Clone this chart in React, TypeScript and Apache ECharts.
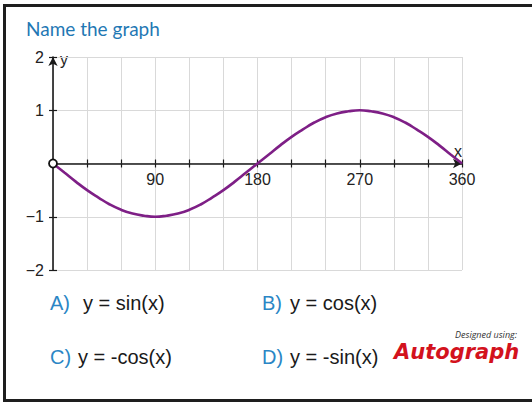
import React, { useEffect, useRef } from 'react';
import * as echarts from 'echarts';

const titleText = 'Name the graph';
const angles = [0, 10, 20, 30, 40, 50, 60, 70, 80, 90, 100, 110, 120, 130, 140, 150, 160, 170, 180, 190, 200, 210, 220, 230, 240, 250, 260, 270, 280, 290, 300, 310, 320, 330, 340, 350, 360];
const curveValues = [0, -0.17, -0.34, -0.5, -0.64, -0.77, -0.87, -0.94, -0.98, -1, -0.98, -0.94, -0.87, -0.77, -0.64, -0.5, -0.34, -0.17, 0, 0.17, 0.34, 0.5, 0.64, 0.77, 0.87, 0.94, 0.98, 1, 0.98, 0.94, 0.87, 0.77, 0.64, 0.5, 0.34, 0.17, 0];
const xTickLabels = [90, 180, 270, 360];
const yTickLabels = [2, 1, -1, -2];
const answerLetters = ['A)', 'B)', 'C)', 'D)'];
const answerTexts = ['y = sin(x)', 'y = cos(x)', 'y = -cos(x)', 'y = -sin(x)'];

export default function App() {
  const ref = useRef<HTMLDivElement>(null);
  useEffect(() => {
    const chart = echarts.init(ref.current!, null, { renderer: 'svg' });
    const ff = '"Liberation Sans", Arial, sans-serif';
    const axisColor = '#1a1a1a';
    const gridTop = 57;
    const gridHeight = 213;
    const zeroOffset = -gridHeight / 2; // x axis drawn through y = 0 (middle of -2..2)
    const letterPos = [
      { lx: 50, ex: 83, y: 303 },
      { lx: 262, ex: 290, y: 303 },
      { lx: 50, ex: 78, y: 357 },
      { lx: 262, ex: 290, y: 357 },
    ];
    const answerGraphics: any[] = [];
    answerLetters.forEach((l, i) => {
      const p = letterPos[i];
      answerGraphics.push({
        type: 'text', x: p.lx, y: p.y,
        style: { text: l, fill: '#2b86c5', font: `20px ${ff}`, align: 'left', verticalAlign: 'middle' },
      });
      answerGraphics.push({
        type: 'text', x: p.ex, y: p.y,
        style: { text: answerTexts[i], fill: '#1a1a1a', font: `20px ${ff}`, align: 'left', verticalAlign: 'middle' },
      });
    });
    chart.setOption({
      animation: false,
      backgroundColor: '#ffffff',
      grid: { left: 53, top: gridTop, width: 409, height: gridHeight, outerBoundsMode: 'none', containLabel: false },
      xAxis: [
        {
          type: 'value', min: 0, max: 360, interval: 30, position: 'bottom', offset: zeroOffset,
          axisLine: { onZero: false, lineStyle: { color: axisColor, width: 1.6 }, symbol: ['none', 'arrow'], symbolSize: [7, 9] },
          axisTick: { show: true, length: 4, lineStyle: { color: axisColor, width: 1.2 } },
          axisLabel: {
            margin: 8, color: '#222', fontSize: 16, fontFamily: ff,
            formatter: (v: number) => (xTickLabels.includes(v) ? String(v) : ''),
          },
          splitLine: { show: true, lineStyle: { color: '#d9d9d9', width: 1 } },
        },
        {
          type: 'value', min: 0, max: 360, interval: 30, position: 'bottom', offset: zeroOffset,
          axisLine: { show: false, onZero: false },
          axisTick: { show: true, inside: true, length: 4, lineStyle: { color: axisColor, width: 1.2 } },
          axisLabel: { show: false },
          splitLine: { show: false },
        },
      ],
      yAxis: [
        {
          type: 'value', min: -2, max: 2, interval: 1, position: 'left',
          axisLine: { show: true, onZero: false, lineStyle: { color: axisColor, width: 1.6 }, symbol: ['none', 'arrow'], symbolSize: [7, 9] },
          axisTick: { show: true, length: 4, lineStyle: { color: axisColor, width: 1.2 } },
          axisLabel: {
            margin: 9, color: '#222', fontSize: 16, fontFamily: ff,
            formatter: (v: number) => (yTickLabels.includes(v) ? (v < 0 ? '\u2212' + Math.abs(v) : String(v)) : ''),
          },
          splitLine: { show: true, lineStyle: { color: '#d9d9d9', width: 1 } },
        },
        {
          type: 'value', min: -2, max: 2, interval: 1, position: 'left',
          axisLine: { show: false, onZero: false },
          axisTick: { show: true, inside: true, length: 4, lineStyle: { color: axisColor, width: 1.2 } },
          axisLabel: { show: false },
          splitLine: { show: false },
        },
      ],
      series: [
        {
          type: 'line', xAxisIndex: 0, yAxisIndex: 0,
          data: angles.map((a, i) => [a, curveValues[i]]),
          showSymbol: false, smooth: true, z: 5,
          lineStyle: { color: '#7e1f86', width: 2.6 },
        },
        {
          type: 'scatter', xAxisIndex: 0, yAxisIndex: 0,
          data: [[angles[0], curveValues[0]]],
          symbol: 'circle', symbolSize: 8, z: 6,
          itemStyle: { color: '#ffffff', borderColor: '#111', borderWidth: 1.8, opacity: 1 },
        },
      ],
      graphic: [
        {
          type: 'rect', shape: { x: 4.5, y: 5.5, width: 560, height: 395 },
          style: { fill: 'none', stroke: '#1e1e1e', lineWidth: 3 },
        },
        {
          type: 'text', x: 26, y: 28,
          style: { text: titleText, fill: '#1f78b4', font: '19px Lato, "Open Sans", sans-serif', align: 'left', verticalAlign: 'middle' },
        },
        {
          type: 'text', x: 60, y: 59,
          style: { text: 'y', fill: '#222', font: `16px ${ff}`, align: 'left', verticalAlign: 'middle' },
        },
        {
          type: 'text', x: 458, y: 151,
          style: { text: 'x', fill: '#222', font: `16px ${ff}`, align: 'center', verticalAlign: 'middle' },
        },
        ...answerGraphics,
        {
          type: 'text', x: 517, y: 334,
          style: { text: 'Designed using:', fill: '#333', font: 'italic 9px "Open Sans", sans-serif', align: 'right', verticalAlign: 'middle' },
        },
        {
          type: 'text', x: 394, y: 352,
          style: { text: 'Autograph', fill: '#d3121d', font: 'italic bold 21px "DejaVu Sans", sans-serif', align: 'left', verticalAlign: 'middle' },
        },
      ],
    });
    return () => chart.dispose();
  }, []);
  return <div ref={ref} style={{ position: 'fixed', left: 0, top: 0, width: 532, height: 403 }} />;
}
